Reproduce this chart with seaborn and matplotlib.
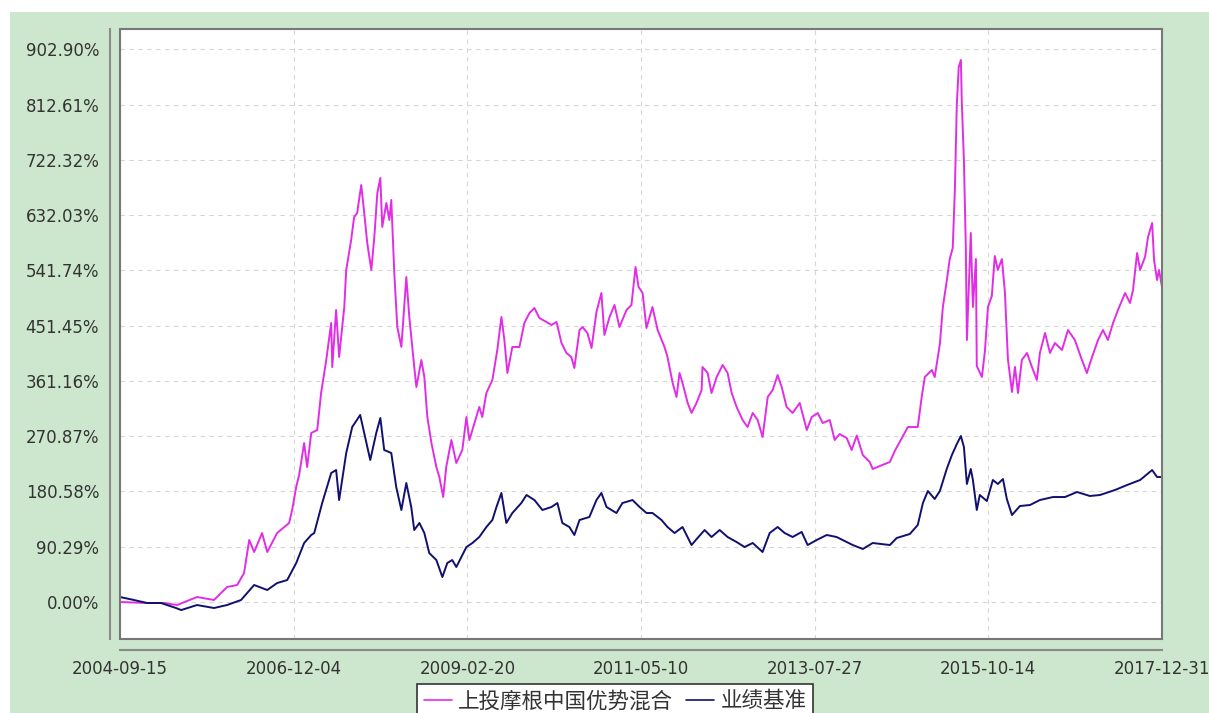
import pandas as pd
import matplotlib
matplotlib.use("Agg")
import matplotlib.pyplot as plt
from matplotlib.patches import Rectangle
from matplotlib.lines import Line2D
import seaborn as sns

# ---- data ----
start_date = "2004-09-15"
end_date = "2017-12-31"

fund_name = "上投摩根中国优势混合"
bench_name = "业绩基准"

# days since start date / cumulative return in %
fund_days = [
    0, 126, 205, 266, 359, 438, 499, 546, 578, 602,
    625, 662, 686, 732, 788, 802, 821, 835, 858, 872,
    891, 919, 937, 961, 984, 989, 1007, 1021, 1045, 1054,
    1077, 1091, 1105, 1124, 1138, 1152, 1171, 1185, 1199, 1213,
    1222, 1241, 1255, 1264, 1278, 1292, 1311, 1334, 1348, 1371,
    1381, 1404, 1418, 1432, 1451, 1474, 1488, 1506, 1520, 1544,
    1567, 1595, 1614, 1628, 1674, 1688, 1707, 1735, 1758, 1777,
    1791, 1805, 1828, 1861, 1884, 1908, 1931, 1954, 1987, 2010,
    2034, 2057, 2080, 2103, 2117, 2141, 2155, 2178, 2197, 2220,
    2243, 2257, 2281, 2304, 2327, 2360, 2383, 2402, 2416, 2435,
    2453, 2481, 2505, 2537, 2551, 2575, 2593, 2607, 2621, 2645,
    2663, 2686, 2710, 2714, 2738, 2756, 2780, 2808, 2831, 2850,
    2873, 2901, 2924, 2948, 2971, 2994, 3018, 3041, 3064, 3083,
    3106, 3134, 3167, 3200, 3223, 3251, 3274, 3307, 3330, 3353,
    3386, 3409, 3433, 3461, 3493, 3507, 3540, 3587, 3610, 3643,
    3671, 3717, 3736, 3750, 3783, 3796, 3820, 3834, 3852, 3866,
    3880, 3890, 3899, 3908, 3918, 3922, 3932, 3941, 3946, 3964,
    3974, 3988, 3992, 4016, 4030, 4044, 4062, 4076, 4090, 4109,
    4123, 4137, 4156, 4170, 4184, 4202, 4226, 4249, 4272, 4286,
    4310, 4333, 4356, 4389, 4417, 4449, 4482, 4505, 4529, 4557,
    4580, 4603, 4627, 4650, 4683, 4706, 4720, 4739, 4753, 4776,
    4790, 4809, 4818, 4832, 4841, 4855,
]
fund_ret = [
    0.0, -1.6, -1.6, -4.9, 8.2, 3.3, 24.5, 27.8, 47.4, 101.3,
    81.7, 112.7, 81.7, 112.7, 129.1, 150.3, 187.9, 208.0, 259.7, 220.5,
    276.1, 281.0, 341.4, 395.3, 455.8, 383.9, 477.0, 400.2, 481.9, 542.4,
    591.4, 628.9, 635.5, 681.2, 635.5, 586.5, 542.4, 596.3, 668.1, 692.6,
    612.6, 651.8, 624.0, 656.7, 537.5, 449.2, 416.6, 530.9, 465.6, 383.9,
    351.2, 395.3, 367.6, 302.2, 259.7, 220.5, 204.2, 171.5, 220.5, 264.6,
    227.1, 248.3, 302.2, 264.6, 318.6, 302.2, 341.4, 362.7, 411.7, 465.6,
    428.0, 374.1, 416.6, 416.6, 455.8, 472.1, 480.3, 463.9, 457.4, 452.5,
    457.4, 423.1, 406.8, 400.2, 382.3, 444.3, 449.2, 439.4, 414.9, 473.7,
    504.8, 436.2, 465.6, 485.2, 449.2, 477.0, 485.2, 547.3, 514.6, 504.8,
    447.6, 481.9, 444.3, 416.6, 400.2, 357.8, 334.9, 374.1, 357.8, 325.1,
    308.8, 325.1, 346.3, 383.9, 374.1, 341.4, 367.6, 387.2, 374.1, 341.4,
    318.6, 297.3, 285.9, 308.8, 297.3, 269.5, 334.9, 346.3, 370.8, 351.2,
    318.6, 308.8, 325.1, 281.0, 302.2, 308.8, 292.4, 297.3, 264.6, 274.4,
    267.9, 248.3, 272.0, 240.1, 228.7, 217.3, 222.2, 228.7, 246.7, 267.9,
    285.9, 285.9, 336.5, 367.6, 379.0, 367.6, 421.5, 481.9, 524.4, 560.3,
    578.3, 674.7, 813.5, 874.0, 885.4, 818.4, 722.1, 578.3, 428.0, 602.8,
    481.9, 560.3, 385.5, 367.6, 410.0, 481.9, 499.9, 565.2, 542.4, 560.3,
    506.4, 397.0, 343.1, 383.9, 341.4, 395.3, 406.8, 383.9, 362.7, 406.8,
    439.4, 406.8, 423.1, 411.7, 444.3, 428.0, 395.3, 374.1, 400.2, 428.0,
    444.3, 428.0, 455.8, 477.0, 504.8, 488.5, 509.7, 570.1, 542.4, 563.6,
    596.3, 619.1, 558.7, 526.0, 542.4, 514.6,
]

bench_days = [
    0, 65, 126, 191, 261, 285, 359, 438, 499, 564,
    625, 686, 732, 779, 821, 858, 891, 905, 942, 984,
    1007, 1021, 1054, 1082, 1119, 1138, 1166, 1194, 1213, 1231,
    1264, 1287, 1311, 1334, 1357, 1371, 1395, 1418, 1441, 1474,
    1502, 1525, 1548, 1567, 1614, 1642, 1674, 1707, 1735, 1754,
    1777, 1800, 1828, 1870, 1894, 1931, 1968, 2010, 2038, 2061,
    2094, 2117, 2141, 2187, 2220, 2243, 2267, 2313, 2341, 2388,
    2421, 2453, 2481, 2523, 2551, 2584, 2621, 2663, 2691, 2724,
    2756, 2794, 2831, 2873, 2910, 2948, 2994, 3027, 3064, 3097,
    3134, 3176, 3204, 3246, 3293, 3339, 3386, 3414, 3461, 3507,
    3587, 3619, 3680, 3717, 3741, 3764, 3796, 3820, 3852, 3876,
    3899, 3918, 3932, 3946, 3964, 3974, 3992, 4006, 4039, 4067,
    4090, 4114, 4132, 4156, 4193, 4240, 4286, 4347, 4403, 4459,
    4519, 4566, 4636, 4692, 4753, 4809, 4832, 4855,
]
bench_ret = [
    8.2, 3.3, -1.6, -1.6, -9.8, -13.1, -4.9, -9.8, -4.9, 3.3,
    27.8, 19.6, 31.0, 35.9, 63.7, 96.4, 109.5, 112.7, 161.7, 210.7,
    215.6, 166.6, 243.4, 285.9, 305.5, 276.1, 232.0, 276.1, 300.6, 248.3,
    243.4, 187.9, 150.3, 194.4, 155.2, 117.6, 129.1, 112.7, 80.0, 68.6,
    40.8, 63.7, 68.6, 57.2, 89.8, 96.4, 106.2, 122.5, 134.0, 155.2,
    178.1, 129.1, 145.4, 161.7, 174.8, 166.6, 150.3, 155.2, 161.7, 129.1,
    122.5, 109.5, 134.0, 138.9, 166.6, 178.1, 155.2, 145.4, 161.7, 166.6,
    155.2, 145.4, 145.4, 134.0, 122.5, 112.7, 122.5, 93.1, 104.6, 117.6,
    106.2, 117.6, 106.2, 98.0, 89.8, 96.4, 81.7, 112.7, 122.5, 112.7,
    106.2, 114.4, 93.1, 101.3, 109.5, 106.2, 98.0, 93.1, 86.6, 96.4,
    93.1, 104.6, 111.1, 125.8, 161.7, 181.3, 168.3, 181.3, 217.3, 240.1,
    258.1, 271.2, 253.2, 192.8, 217.3, 199.3, 150.3, 174.8, 165.0, 199.3,
    192.8, 200.9, 168.3, 142.1, 156.8, 158.5, 166.6, 171.5, 171.5, 179.7,
    173.2, 174.8, 183.0, 191.1, 199.3, 215.6, 204.2, 204.2,
]

xtick_labels = ["2004-09-15", "2006-12-04", "2009-02-20", "2011-05-10",
                "2013-07-27", "2015-10-14", "2017-12-31"]
ytick_step = 90.29
n_yticks = 11

# ---- build long frame ----
t0 = pd.Timestamp(start_date)
df = pd.concat([
    pd.DataFrame({"date": t0 + pd.to_timedelta(fund_days, unit="D"),
                  "ret": fund_ret, "series": fund_name}),
    pd.DataFrame({"date": t0 + pd.to_timedelta(bench_days, unit="D"),
                  "ret": bench_ret, "series": bench_name}),
], ignore_index=True)

# ---- style ----
bg_green = "#cce7cd"
fund_color = "#e22de6"
bench_color = "#10106e"
text_color = "#333333"

sns.set_style("white")
plt.rcParams["font.family"] = ["DejaVu Sans", "Noto Sans CJK SC"]

W, H = 1209, 713
fig = plt.figure(figsize=(W / 100, H / 100), dpi=100, facecolor="white")
fig.patches.append(Rectangle((10 / W, 0), 1, 1 - 12 / H, transform=fig.transFigure,
                             facecolor=bg_green, edgecolor="none", zorder=-10))

ax = fig.add_axes([120 / W, 1 - 639 / H, (1162 - 120) / W, (639 - 29) / H])
ax.set_facecolor("white")

sns.lineplot(data=df, x="date", y="ret", hue="series",
             palette={fund_name: fund_color, bench_name: bench_color},
             estimator=None, sort=False, linewidth=1.4, legend=False, ax=ax)

ax.set_xlim(pd.Timestamp(start_date), pd.Timestamp(end_date))
ax.set_ylim(-60.4, 936.0)

yticks = [i * ytick_step for i in range(n_yticks)]
ax.set_yticks(yticks)
ax.set_yticklabels([f"{v:.2f}%" for v in yticks])
ax.set_xticks(pd.to_datetime(xtick_labels))
ax.set_xticklabels(xtick_labels)
ax.set_xlabel("")
ax.set_ylabel("")

ax.grid(True, color="#d6d6d6", linestyle=(0, (4, 4)), linewidth=0.8)
ax.set_axisbelow(True)

for side in ["top", "right"]:
    ax.spines[side].set_visible(False)
ax.spines["left"].set_position(("outward", 7))
ax.spines["bottom"].set_position(("outward", 8))
for side in ["left", "bottom"]:
    ax.spines[side].set_color("#8a8a8a")
    ax.spines[side].set_linewidth(1.5)

# plot frame
ax.add_patch(Rectangle((0, 0), 1, 1, transform=ax.transAxes, fill=False,
                       edgecolor="#777777", linewidth=1.5, clip_on=False, zorder=5))

ax.tick_params(axis="both", direction="out", length=4, width=1, color="#8a8a8a",
               labelsize=12, labelcolor=text_color)
ax.tick_params(axis="y", pad=4)
ax.tick_params(axis="x", pad=3)

handles = [Line2D([], [], color=fund_color, linewidth=1.2),
           Line2D([], [], color=bench_color, linewidth=1.2)]
leg = fig.legend(handles, [fund_name, bench_name], loc="upper center",
                 bbox_to_anchor=(615 / W, 1 - 684 / H), ncol=2,
                 frameon=True, fancybox=False, edgecolor="#333333",
                 facecolor="white", framealpha=1.0,
                 prop={"family": ["Noto Sans CJK SC", "DejaVu Sans"], "size": 15.5},
                 handlelength=1.3, handletextpad=0.3, columnspacing=0.6,
                 borderpad=0.3, borderaxespad=0)
leg.get_frame().set_linewidth(1.2)
for t in leg.get_texts():
    t.set_color(text_color)

fig.savefig("out.png", dpi=100, facecolor=fig.get_facecolor())
